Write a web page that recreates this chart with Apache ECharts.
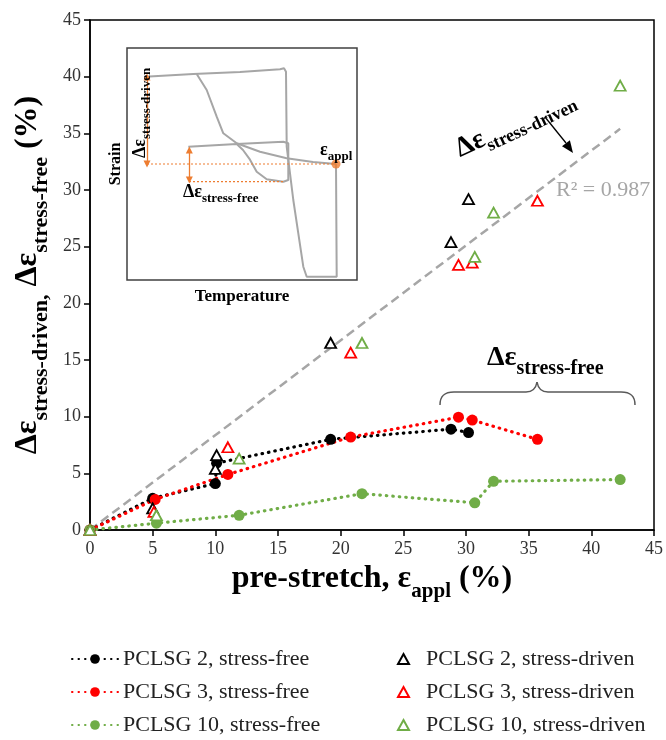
<!DOCTYPE html>
<html><head><meta charset="utf-8">
<script src="https://cdn.jsdelivr.net/npm/echarts@6/dist/echarts.min.js"></script>
<style>html,body{margin:0;padding:0;background:#fff}#c{width:666px;height:740px}</style>
</head><body><div id="c"></div>
<script>
// ---- data ----
const p2FreeX = [0, 5.0, 10.0, 10.1, 19.2, 28.8, 30.2];
const p2FreeY = [0, 2.8, 4.1, 5.9, 8.0, 8.9, 8.6];
const p3FreeX = [0, 5.2, 11.0, 20.8, 29.4, 30.5, 35.7];
const p3FreeY = [0, 2.7, 4.9, 8.2, 9.95, 9.7, 8.0];
const p10FreeX = [0, 5.3, 11.9, 21.7, 30.7, 32.2, 42.3];
const p10FreeY = [0, 0.6, 1.3, 3.2, 2.4, 4.3, 4.45];
const p2DrivenX = [0, 5.0, 10.1, 10.0, 19.2, 28.8, 30.2];
const p2DrivenY = [0, 1.9, 6.6, 5.4, 16.5, 25.4, 29.2];
const p3DrivenX = [0, 5.1, 11.0, 20.8, 29.4, 30.5, 35.7];
const p3DrivenY = [0, 1.6, 7.3, 15.65, 23.4, 23.6, 29.05];
const p10DrivenX = [0, 5.3, 11.9, 21.7, 30.7, 32.2, 42.3];
const p10DrivenY = [0, 1.3, 6.3, 16.5, 24.1, 28.0, 39.2];
const fitX = [0, 42.3];
const fitY = [0, 35.4];
const fitLabel = 'R² = 0.987';
const seriesNames = ['PCLSG 2, stress-free', 'PCLSG 3, stress-free', 'PCLSG 10, stress-free',
  'PCLSG 2, stress-driven', 'PCLSG 3, stress-driven', 'PCLSG 10, stress-driven'];
// inset schematic (inset-local units)
const insetUpperX = [18, 66.3, 113, 153, 157, 159, 159.7, 163, 166.3, 171.3, 176.3, 179.7, 209.7, 209];
const insetUpperY = [28.7, 26, 24, 21.3, 20.3, 23.7, 98.7, 125.3, 152, 185.3, 218.7, 228.7, 228.7, 116];
const insetDescX = [69.7, 79.7, 89.7, 96.3, 109.7, 133, 159.7, 186, 209];
const insetDescY = [26, 42, 68.7, 85.3, 95.3, 103.7, 110.3, 114, 116];
const insetMidX = [61.3, 109.7, 156.3, 161.3, 161.3, 156.3, 139.7, 129.7, 123, 116, 109.7];
const insetMidY = [98.7, 96, 93.7, 95.3, 132, 133.7, 131.3, 123.7, 111.7, 102, 96];
const insetApplX = [209];
const insetApplY = [116];

const zip = (a, b) => a.map((v, i) => [v, b[i]]);
const FONT = '"Liberation Serif", "Times New Roman", serif';
const ORANGE = '#ed7d31';
const colors = ['#000000', '#ff0000', '#70ad47'];

const chart = echarts.init(document.getElementById('c'), null, {renderer: 'canvas'});

const dotted = c => ({color: c, width: 3.2, type: [0.5, 6], cap: 'round'});
const freeSeries = [[p2FreeX, p2FreeY], [p3FreeX, p3FreeY], [p10FreeX, p10FreeY]].map((d, i) => ({
  name: seriesNames[i], type: 'line', data: zip(d[0], d[1]),
  symbol: 'circle', symbolSize: 11, showSymbol: true,
  itemStyle: {color: colors[i]}, lineStyle: dotted(colors[i]), z: 3, silent: true
}));
const drivenSeries = [[p2DrivenX, p2DrivenY], [p3DrivenX, p3DrivenY], [p10DrivenX, p10DrivenY]].map((d, i) => ({
  name: seriesNames[i + 3], type: 'scatter', data: zip(d[0], d[1]),
  symbol: 'triangle', symbolSize: [11, 10],
  itemStyle: {color: '#ffffff', borderColor: colors[i], borderWidth: 1.8, opacity: 1}, z: 4, silent: true
}));
const grayLine = d => ({type: 'line', xAxisIndex: 1, yAxisIndex: 1, data: d, symbol: 'none',
  lineStyle: {color: '#a6a6a6', width: 2}, silent: true, z: 2});
const orangeDotted = d => ({type: 'line', xAxisIndex: 1, yAxisIndex: 1, data: d, symbol: 'none',
  lineStyle: {color: ORANGE, width: 1.2, type: [2, 2]}, silent: true, z: 3});

const titleRich = (big, small, color) => ({
  d: {fontFamily: FONT, fontWeight: 'bold', fontSize: big, lineHeight: big + 4, verticalAlign: 'top', color: color || '#000'},
  s: {fontFamily: FONT, fontWeight: 'bold', fontSize: small, lineHeight: small + 2, padding: [Math.round(big * 0.55), 0, 0, 0], verticalAlign: 'top', color: color || '#000'}
});
const insetRich = {
  d: {fontFamily: FONT, fontWeight: 'bold', fontSize: 18, lineHeight: 20, verticalAlign: 'top', color: ORANGE},
  s: {fontFamily: FONT, fontWeight: 'bold', fontSize: 13, lineHeight: 14, padding: [9, 0, 0, 0], verticalAlign: 'top', color: ORANGE}
};
const braceStyle = {stroke: '#595959', lineWidth: 1.5, fill: null};
const legendText = {fontFamily: FONT, fontSize: 22, color: '#222', lineHeight: 22};

chart.setOption({
  animation: false,
  backgroundColor: '#fff',
  grid: [
    {left: 90, right: 10, top: 20, bottom: 210, show: true, borderColor: '#000', borderWidth: 1.5},
    {left: 127, top: 48, width: 230, height: 232, show: true, borderColor: '#404040', borderWidth: 1.5, backgroundColor: '#fff', z: 1}
  ],
  xAxis: [
    {type: 'value', gridIndex: 0, min: 0, max: 45, interval: 5,
      axisLine: {lineStyle: {color: '#000', width: 1.5}},
      axisTick: {show: true, inside: false, length: 6, lineStyle: {color: '#000', width: 1.5}},
      axisLabel: {fontFamily: FONT, fontSize: 18, color: '#333', margin: 10},
      splitLine: {show: false},
      name: '{d|pre-stretch, ε}{s|appl}{d| (%)}', nameLocation: 'middle', nameGap: 20,
      nameTextStyle: {rich: titleRich(32, 21)}},
    {type: 'value', gridIndex: 1, min: 0, max: 230, show: true,
      axisLine: {show: false}, axisTick: {show: false}, axisLabel: {show: false}, splitLine: {show: false},
      name: 'Temperature', nameLocation: 'middle', nameGap: 8,
      nameTextStyle: {fontFamily: FONT, fontWeight: 'bold', fontSize: 17, color: '#000'}}
  ],
  yAxis: [
    {type: 'value', gridIndex: 0, min: 0, max: 45, interval: 5,
      axisLine: {lineStyle: {color: '#000', width: 1.5}},
      axisTick: {show: true, inside: false, length: 6, lineStyle: {color: '#000', width: 1.5}},
      axisLabel: {fontFamily: FONT, fontSize: 18, color: '#333', margin: 9},
      splitLine: {show: false},
      name: '{d|Δε}{s|stress-driven,}{d| Δε}{s|stress-free}{d| (%)}', nameLocation: 'middle', nameGap: 34, nameRotate: 90,
      nameTextStyle: {rich: titleRich(32, 22)}},
    {type: 'value', gridIndex: 1, min: 0, max: 232, inverse: true, show: true,
      axisLine: {show: false}, axisTick: {show: false}, axisLabel: {show: false}, splitLine: {show: false},
      name: 'Strain', nameLocation: 'middle', nameGap: 3, nameRotate: 90,
      nameTextStyle: {fontFamily: FONT, fontWeight: 'bold', fontSize: 16, color: '#000'}}
  ],
  legend: [
    {data: seriesNames.slice(0, 3), orient: 'vertical', left: 71, top: 648, padding: 0, itemWidth: 46, itemHeight: 12, itemGap: 11,
      selectedMode: false, textStyle: legendText},
    {data: seriesNames.slice(3), orient: 'vertical', left: 397, top: 648, padding: 0, itemWidth: 11, itemHeight: 10, itemGap: 11,
      selectedMode: false, textStyle: Object.assign({padding: [0, 0, 0, 12]}, legendText)}
  ],
  series: [
    {type: 'line', name: 'fit', data: zip(fitX, fitY), symbol: 'none', silent: true, z: 1,
      lineStyle: {color: '#a6a6a6', width: 2.5, type: [9, 5]}},
    ...freeSeries,
    ...drivenSeries,
    grayLine(zip(insetUpperX, insetUpperY)),
    grayLine(zip(insetDescX, insetDescY)),
    grayLine(zip(insetMidX, insetMidY)),
    orangeDotted([[20, 116], [209, 116]]),
    orangeDotted([[62, 133.7], [156.3, 133.7]]),
    {type: 'line', xAxisIndex: 1, yAxisIndex: 1, data: [], silent: true,
      markLine: {silent: true, symbol: ['triangle', 'triangle'], symbolSize: [7, 7],
        lineStyle: {color: ORANGE, width: 1.3, type: 'solid'}, label: {show: false},
        data: [[{coord: [20, 29]}, {coord: [20, 116]}], [{coord: [62.3, 102]}, {coord: [62.3, 132]}]]}},
    {type: 'scatter', xAxisIndex: 1, yAxisIndex: 1, data: zip(insetApplX, insetApplY), symbolSize: 9,
      itemStyle: {color: ORANGE}, silent: true, z: 5}
  ],
  graphic: [
    // main-plot annotations
    {type: 'text', x: 451, y: 138, rotation: 0.44, z: 10,
      style: {text: '{d|Δε}{s|stress-driven}', rich: titleRich(28, 18), fill: '#000'}},
    {type: 'line', shape: {x1: 545, y1: 117, x2: 566, y2: 143}, style: {stroke: '#000', lineWidth: 1.3}, z: 10},
    {type: 'polygon', shape: {points: [[573, 153], [562, 146.3], [569.9, 140.3]]}, style: {fill: '#000'}, z: 10},
    {type: 'text', x: 556, y: 179, z: 10,
      style: {text: fitLabel, font: '22px ' + FONT, fill: '#a6a6a6'}},
    {type: 'text', x: 487, y: 344, z: 10,
      style: {text: '{d|Δε}{s|stress-free}', rich: titleRich(28, 20), fill: '#000'}},
    {type: 'bezierCurve', z: 10, shape: {x1: 440, y1: 405, cpx1: 440, cpy1: 396, cpx2: 444, cpy2: 392, x2: 454, y2: 392}, style: braceStyle},
    {type: 'line', z: 10, shape: {x1: 454, y1: 392, x2: 526, y2: 392}, style: braceStyle},
    {type: 'bezierCurve', z: 10, shape: {x1: 526, y1: 392, cpx1: 533, cpy1: 392, cpx2: 536, cpy2: 388, x2: 537, y2: 382}, style: braceStyle},
    {type: 'bezierCurve', z: 10, shape: {x1: 537, y1: 382, cpx1: 538, cpy1: 388, cpx2: 541, cpy2: 392, x2: 548, y2: 392}, style: braceStyle},
    {type: 'line', z: 10, shape: {x1: 548, y1: 392, x2: 621, y2: 392}, style: braceStyle},
    {type: 'bezierCurve', z: 10, shape: {x1: 621, y1: 392, cpx1: 631, cpy1: 392, cpx2: 635, cpy2: 396, x2: 635, y2: 405}, style: braceStyle},
    // inset labels
    {type: 'text', x: 131, y: 158, rotation: Math.PI / 2, z: 10,
      style: {text: '{d|Δε}{s|stress-driven}', rich: insetRich}},
    {type: 'text', x: 183, y: 183, z: 10,
      style: {text: '{d|Δε}{s|stress-free}', rich: insetRich}},
    {type: 'text', x: 320, y: 141, z: 10,
      style: {text: '{d|ε}{s|appl}', rich: insetRich}}
  ]
});
</script></body></html>
